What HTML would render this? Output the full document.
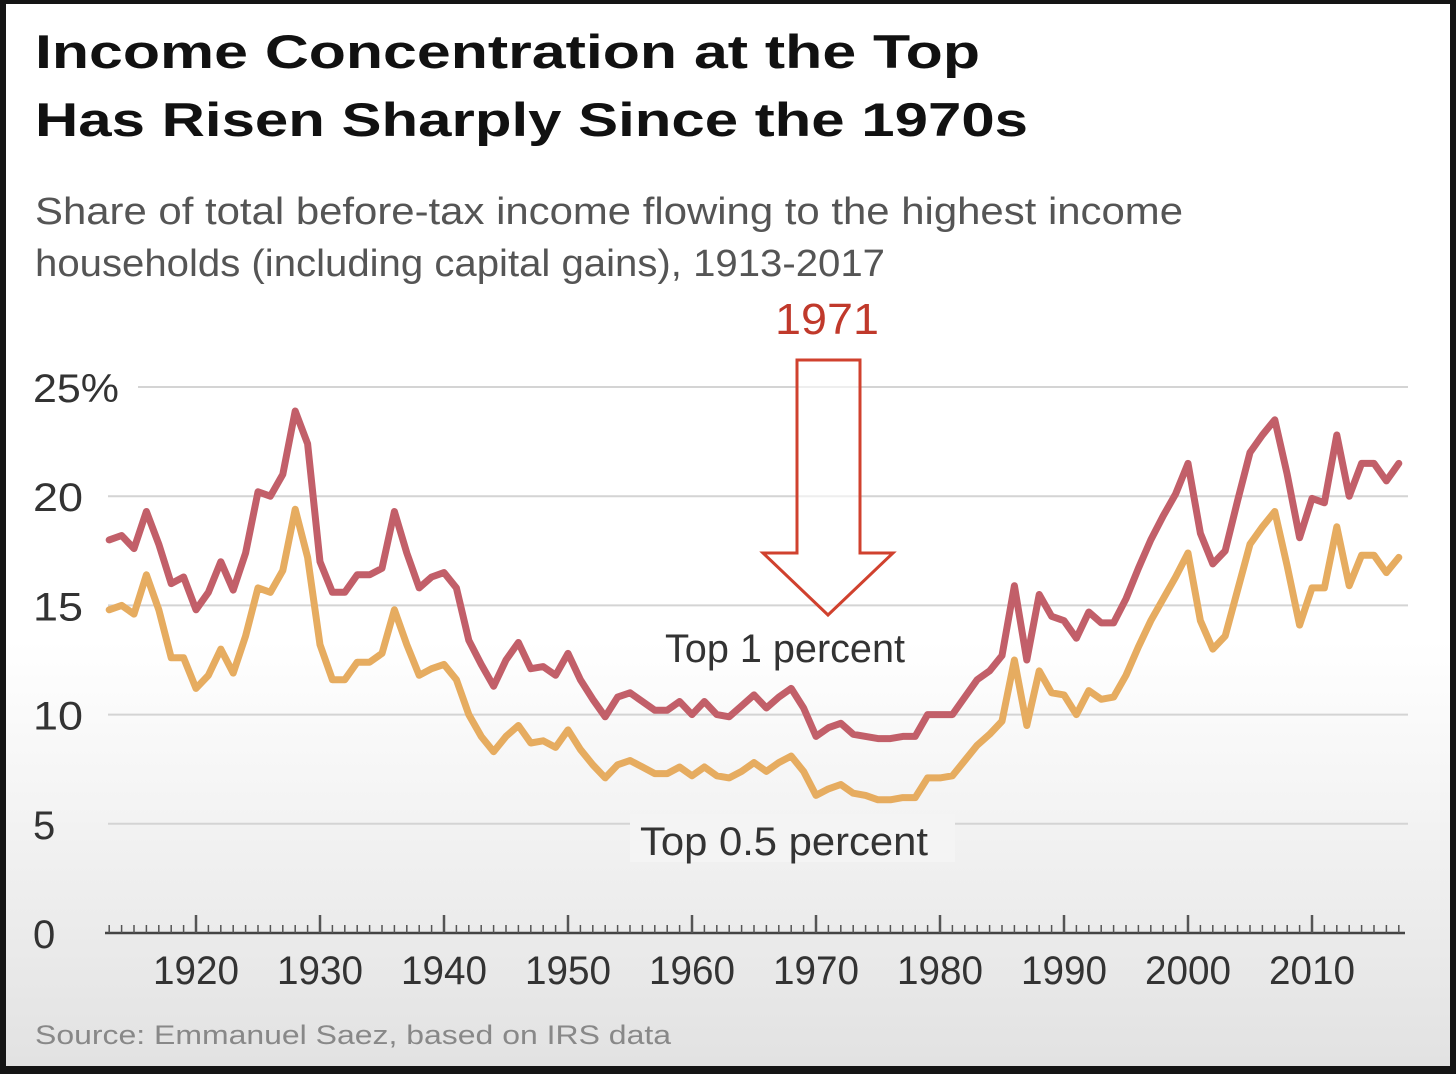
<!DOCTYPE html>
<html><head><meta charset="utf-8"><style>
html,body{margin:0;padding:0;background:#111;}
svg{display:block;}
text{font-family:"Liberation Sans",sans-serif;}
</style></head><body>
<svg id="chart" width="1456" height="1074" viewBox="0 0 1456 1074" xmlns="http://www.w3.org/2000/svg">
<defs>
<linearGradient id="bg" x1="0" y1="0" x2="0" y2="1">
<stop offset="0" stop-color="#ffffff"/>
<stop offset="0.6" stop-color="#ffffff"/>
<stop offset="1" stop-color="#e2e2e2"/>
</linearGradient>
</defs>
<rect x="0" y="0" width="1456" height="1074" fill="#151515"/>
<rect x="6" y="4" width="1444" height="1062" fill="url(#bg)"/>
<text x="35" y="68" font-size="47" font-weight="bold" fill="#111" textLength="945" lengthAdjust="spacingAndGlyphs">Income Concentration at the Top</text>
<text x="35" y="136" font-size="47" font-weight="bold" fill="#111" textLength="993" lengthAdjust="spacingAndGlyphs">Has Risen Sharply Since the 1970s</text>
<text x="35" y="224" font-size="38" fill="#555" textLength="1148" lengthAdjust="spacingAndGlyphs">Share of total before-tax income flowing to the highest income</text>
<text x="35" y="276" font-size="38" fill="#555" textLength="850" lengthAdjust="spacingAndGlyphs">households (including capital gains), 1913-2017</text>
<g id="grid"></g>
<g id="yaxis"></g>
<g id="xaxis"></g>
<g id="series"></g>
<rect x="630" y="814" width="325" height="48" fill="#f4f4f4"/>
<text x="665" y="662" font-size="40" fill="#333" textLength="240" lengthAdjust="spacingAndGlyphs">Top 1 percent</text>
<text x="640" y="855" font-size="40" fill="#333" textLength="288" lengthAdjust="spacingAndGlyphs">Top 0.5 percent</text>
<text x="827" y="334" font-size="44" fill="#c0392b" text-anchor="middle" textLength="104" lengthAdjust="spacingAndGlyphs">1971</text>
<polygon points="797,360 860,360 860,553 893,553 828,615 763,553 797,553" fill="#fff" fill-opacity="0.6" stroke="#d0412e" stroke-width="3"/>
<text x="35" y="1044" font-size="27" fill="#888" textLength="636" lengthAdjust="spacingAndGlyphs">Source: Emmanuel Saez, based on IRS data</text>
</svg>
<script>
const years = [];
for (let y = 1913; y <= 2017; y++) years.push(y);
const top1 = [18.0,18.2,17.6,19.3,17.8,16.0,16.3,14.8,15.6,17.0,15.7,17.4,20.2,20.0,21.0,23.9,22.4,17.0,15.6,15.6,16.4,16.4,16.7,19.3,17.4,15.8,16.3,16.5,15.8,13.4,12.3,11.3,12.5,13.3,12.1,12.2,11.8,12.8,11.6,10.7,9.9,10.8,11.0,10.6,10.2,10.2,10.6,10.0,10.6,10.0,9.9,10.4,10.9,10.3,10.8,11.2,10.3,9.0,9.4,9.6,9.1,9.0,8.9,8.9,9.0,9.0,10.0,10.0,10.0,10.8,11.6,12.0,12.7,15.9,12.5,15.5,14.5,14.3,13.5,14.7,14.2,14.2,15.3,16.7,18.0,19.1,20.1,21.5,18.3,16.9,17.5,19.8,22.0,22.8,23.5,21.0,18.1,19.9,19.7,22.8,20.0,21.5,21.5,20.7,21.5];
const topHalf = [14.8,15.0,14.6,16.4,14.8,12.6,12.6,11.2,11.8,13.0,11.9,13.6,15.8,15.6,16.6,19.4,17.2,13.2,11.6,11.6,12.4,12.4,12.8,14.8,13.2,11.8,12.1,12.3,11.6,10.0,9.0,8.3,9.0,9.5,8.7,8.8,8.5,9.3,8.4,7.7,7.1,7.7,7.9,7.6,7.3,7.3,7.6,7.2,7.6,7.2,7.1,7.4,7.8,7.4,7.8,8.1,7.4,6.3,6.6,6.8,6.4,6.3,6.1,6.1,6.2,6.2,7.1,7.1,7.2,7.9,8.6,9.1,9.7,12.5,9.5,12.0,11.0,10.9,10.0,11.1,10.7,10.8,11.8,13.1,14.3,15.3,16.3,17.4,14.3,13.0,13.6,15.7,17.8,18.6,19.3,16.8,14.1,15.8,15.8,18.6,15.9,17.3,17.3,16.5,17.2];
const yTicks = [0,5,10,15,20,25];
const yTickLabels = ["0","5","10","15","20","25%"];
const xTicks = [1920,1930,1940,1950,1960,1970,1980,1990,2000,2010];

const NS = "http://www.w3.org/2000/svg";
const Y0 = 933, YPER = 21.84;
function xs(yr){ return 196 + (yr - 1920) * 12.4; }
function ys(v){ return Y0 - v * YPER; }
function mk(tag, attrs, parent){
  const e = document.createElementNS(NS, tag);
  for (const k in attrs) e.setAttribute(k, attrs[k]);
  parent.appendChild(e);
  return e;
}
const grid = document.getElementById('grid');
const yaxis = document.getElementById('yaxis');
const xaxis = document.getElementById('xaxis');
const series = document.getElementById('series');

yTicks.forEach((t, i) => {
  if (t > 0) {
    const gl = mk('line', {x1: t === 25 ? 138 : 108, x2: 1408, y1: ys(t), y2: ys(t), stroke: '#d4d4d4', 'stroke-width': 2}, grid);
    
    
  }
  const lb = mk('text', {x: 33, y: ys(t) + 15, 'font-size': 40, fill: '#333'}, yaxis);
  lb.textContent = yTickLabels[i];
  if (t === 25) { lb.setAttribute('textLength', 86); lb.setAttribute('lengthAdjust', 'spacingAndGlyphs'); }
  else if (t >= 10) { lb.setAttribute('textLength', 50); lb.setAttribute('lengthAdjust', 'spacingAndGlyphs'); }
  
  
});

const axl = mk('line', {x1: 105, x2: 1405, y1: Y0, y2: Y0, stroke: '#444', 'stroke-width': 2.5}, xaxis);


for (let yr = 1913; yr <= 2017; yr++) {
  const major = yr % 10 === 0;
  const tk = mk('line', {x1: xs(yr), x2: xs(yr), y1: Y0, y2: Y0 - (major ? 18 : 8), stroke: '#555', 'stroke-width': major ? 2.5 : 1.5}, xaxis);
  
  
}
xTicks.forEach(t => {
  const lb = mk('text', {x: xs(t), y: 984, 'font-size': 40, fill: '#333', 'text-anchor': 'middle', textLength: 86, lengthAdjust: 'spacingAndGlyphs'}, xaxis);
  lb.textContent = String(t);
  
  
});

function drawLine(vals, color, name){
  const d = vals.map((v, i) => (i ? 'L' : 'M') + xs(years[i]).toFixed(1) + ',' + ys(v).toFixed(1)).join(' ');
  const p = mk('path', {d: d, fill: 'none', stroke: color, 'stroke-width': 7, 'stroke-linejoin': 'round', 'stroke-linecap': 'round'}, series);
  
  
}
drawLine(topHalf, '#e6ac60', 'line-top-half-percent');
drawLine(top1, '#c25f69', 'line-top-1-percent');
</script>
</body></html>
